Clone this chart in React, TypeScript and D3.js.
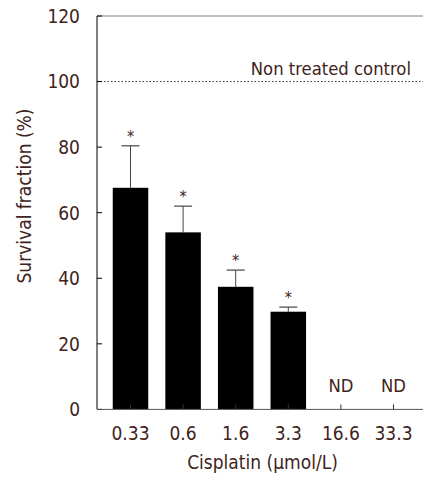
import React from "react";
import * as d3 from "d3";

const categories = ["0.33", "0.6", "1.6", "3.3", "16.6", "33.3"];
const means = [67.6, 54.0, 37.4, 29.8, null, null];
const errors = [12.8, 8.0, 5.1, 1.4, null, null];
const significant = [true, true, true, true, false, false];
const yTicks = [0, 20, 40, 60, 80, 100, 120];
const controlValue = 100;
const controlLabel = "Non treated control";
const yTitle = "Survival fraction (%)";
const xTitle = "Cisplatin (\u03bcmol/L)";
const ndLabel = "ND";

const W = 423;
const H = 477;
const FONT = "'DejaVu Sans Condensed', 'DejaVu Sans', sans-serif";
const TEXT = "#3f2420";

export default function App() {
  const left = 97;
  const right = 423;
  const top = 16;
  const bottom = 409.4;

  const y = d3.scaleLinear().domain([0, 120]).range([bottom, top]);
  const x = d3
    .scaleBand<string>()
    .domain(categories)
    .range([104.2, 419.8])
    .paddingInner(0.325)
    .paddingOuter(0.1625);

  const bw = x.bandwidth();

  return (
    <svg
      width={W}
      height={H}
      style={{ position: "absolute", left: 0, top: 0, background: "#fff" }}
      fontFamily={FONT}
    >
      <line x1={left} x2={right} y1={top} y2={top} stroke="#808080" strokeWidth={1} />
      <line
        x1={left}
        x2={right}
        y1={y(controlValue)}
        y2={y(controlValue)}
        stroke="#333"
        strokeWidth={1}
        strokeDasharray="1.5,2"
      />
      <text x={411} y={75} textAnchor="end" fontSize={18.3} fill={TEXT}>
        {controlLabel}
      </text>

      {categories.map((c, i) => {
        const m = means[i];
        const cx = (x(c) as number) + bw / 2;
        if (m == null) {
          return (
            <text key={c} x={cx} y={391.5} textAnchor="middle" fontSize={18.3} fill={TEXT}>
              {ndLabel}
            </text>
          );
        }
        const e = errors[i] as number;
        const errTop = y(m + e);
        return (
          <g key={c}>
            <line x1={cx} x2={cx} y1={y(m)} y2={errTop} stroke="#444" strokeWidth={1} />
            <line x1={cx - 9} x2={cx + 9} y1={errTop} y2={errTop} stroke="#444" strokeWidth={1.2} />
            <rect x={x(c)} y={y(m)} width={bw} height={y(0) - y(m)} fill="#000" />
            {significant[i] && (
              <text x={cx} y={errTop - 4} textAnchor="middle" fontSize={16} fill={TEXT}>
                *
              </text>
            )}
          </g>
        );
      })}

      <line x1={left} x2={left} y1={top} y2={bottom} stroke="#000" strokeWidth={1} />
      {yTicks.map((t) => (
        <g key={t}>
          <line x1={left} x2={left + 5} y1={y(t)} y2={y(t)} stroke="#000" strokeWidth={1} />
          <text x={80} y={y(t)} dy="0.36em" textAnchor="end" fontSize={19} fill={TEXT}>
            {t}
          </text>
        </g>
      ))}

      <line x1={left} x2={right} y1={bottom} y2={bottom} stroke="#555" strokeWidth={1} />
      {categories.map((c) => {
        const cx = (x(c) as number) + bw / 2;
        return (
          <g key={c}>
            <line x1={cx} x2={cx} y1={bottom} y2={bottom - 5} stroke="#333" strokeWidth={1} />
            <text x={cx} y={440} textAnchor="middle" fontSize={19} fill={TEXT}>
              {c}
            </text>
          </g>
        );
      })}

      <text x={262.5} y={469} textAnchor="middle" fontSize={19} fill={TEXT}>
        {xTitle}
      </text>
      <text transform={`translate(31, 196) rotate(-90)`} textAnchor="middle" fontSize={19} fill={TEXT}>
        {yTitle}
      </text>
    </svg>
  );
}
